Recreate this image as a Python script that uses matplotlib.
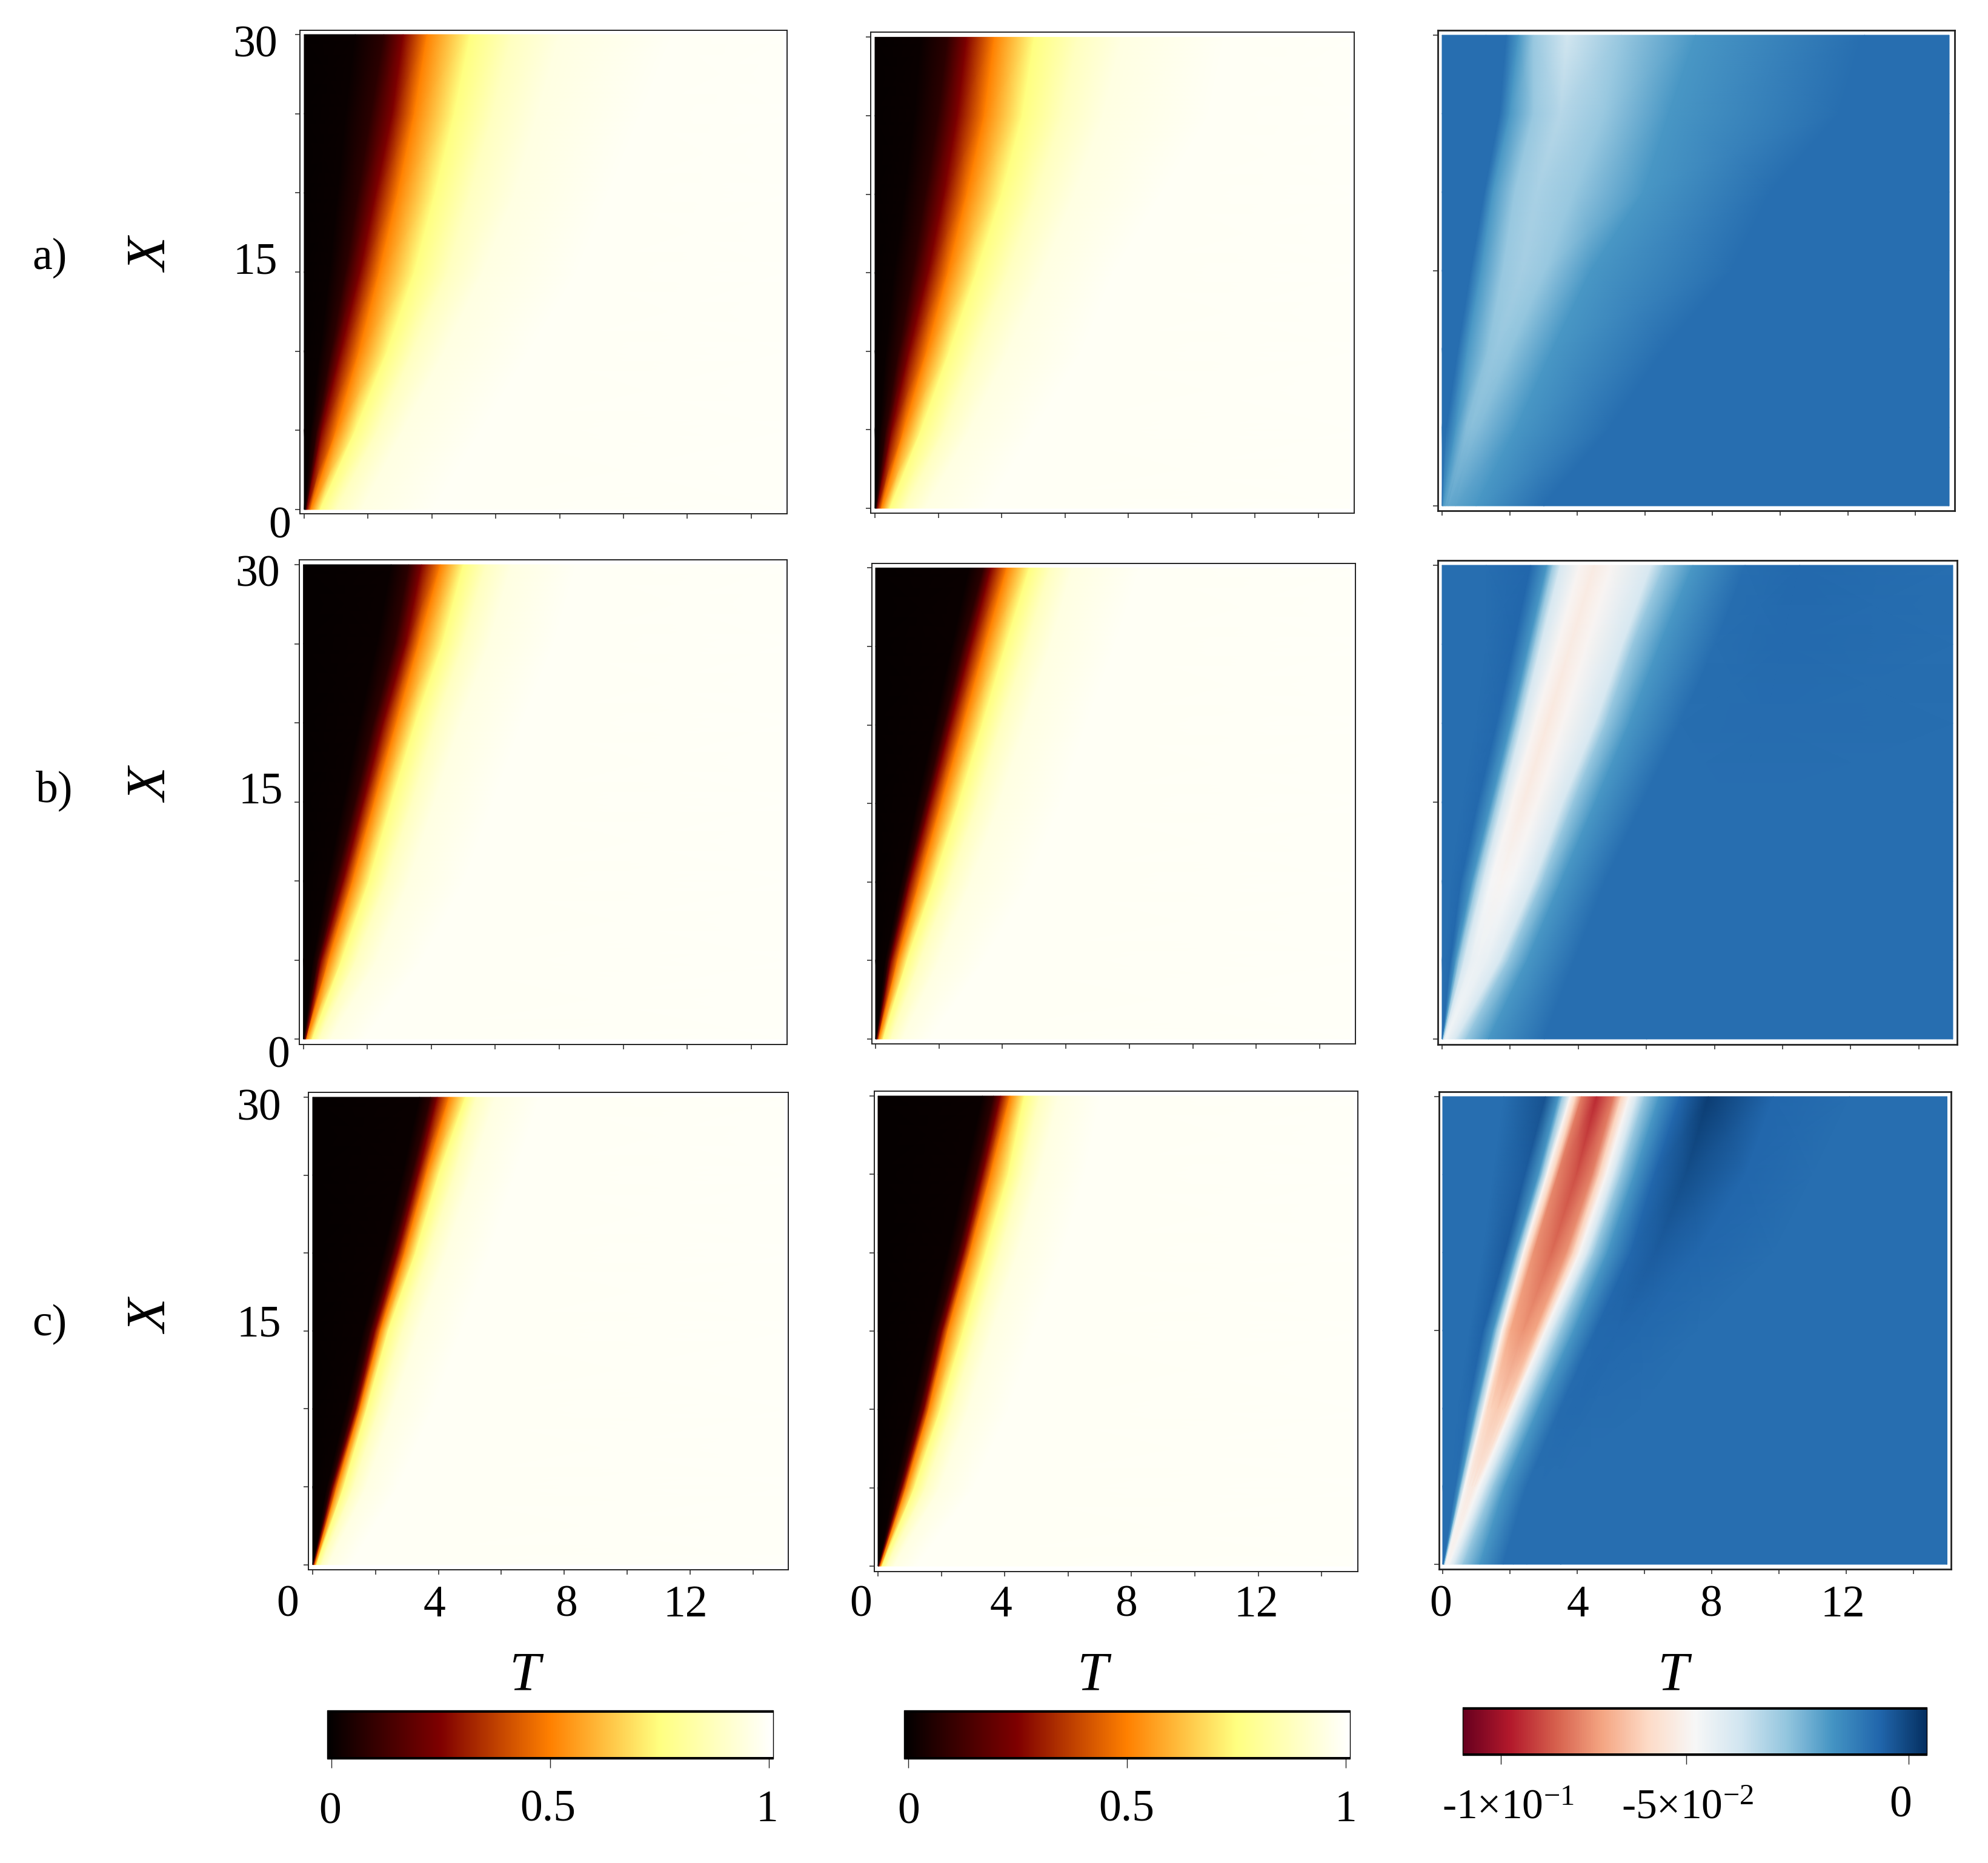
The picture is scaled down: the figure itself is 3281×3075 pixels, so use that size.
# three rows of front maps, two "hot" fields and their difference
import matplotlib
matplotlib.use("Agg")
import matplotlib.pyplot as plt
from matplotlib.colors import LinearSegmentedColormap, Normalize, TwoSlopeNorm
from matplotlib.cm import ScalarMappable
import numpy as np

plt.rcParams["font.family"] = ["Liberation Serif", "DejaVu Serif"]
plt.rcParams["mathtext.fontset"] = "custom"
plt.rcParams["mathtext.rm"] = "Liberation Serif"
plt.rcParams["mathtext.it"] = "Liberation Serif:italic"

W, H = 3281, 3075

X_ROWS = [0, 5, 10, 15, 20, 25, 30]
T_END = 15

# hot panels: T where the field reaches each level, one line per X row
HOT_LEVELS = [0.0, 0.01, 0.08, 0.25, 0.5, 0.75, 0.88, 0.95, 0.99, 0.995]
hot_a1 = [[0.02, 0.05, 0.08, 0.20, 0.50, 1.00, 1.8, 4.0],
          [0.20, 0.40, 0.55, 1.00, 1.60, 2.30, 3.1, 5.5],
          [0.50, 0.85, 1.15, 1.72, 2.60, 3.40, 4.4, 7.0],
          [0.80, 1.30, 1.75, 2.35, 3.45, 4.50, 5.6, 8.5],
          [1.05, 1.70, 2.25, 2.93, 4.10, 5.20, 6.6, 9.5],
          [1.30, 2.10, 2.76, 3.45, 4.70, 5.90, 7.3, 10.5],
          [1.60, 2.50, 3.10, 3.85, 5.20, 6.50, 8.0, 11.5]]
hot_a2 = [[0.02, 0.04, 0.07, 0.20, 0.47, 0.95, 1.6, 3.5],
          [0.15, 0.35, 0.53, 0.91, 1.46, 2.20, 3.0, 5.0],
          [0.35, 0.75, 1.08, 1.63, 2.35, 3.20, 4.2, 6.5],
          [0.60, 1.20, 1.68, 2.30, 3.20, 4.20, 5.3, 7.5],
          [0.95, 1.60, 2.18, 2.90, 4.00, 5.10, 6.3, 9.0],
          [1.25, 2.00, 2.60, 3.45, 4.65, 5.90, 7.2, 10.5],
          [1.45, 2.30, 2.90, 3.77, 5.03, 6.40, 7.8, 11.0]]
hot_b1 = [[0.02, 0.03, 0.07, 0.10, 0.28, 0.50, 0.85, 1.9],
          [0.30, 0.45, 0.56, 0.79, 1.20, 1.65, 2.30, 3.7],
          [0.75, 1.02, 1.25, 1.54, 2.05, 2.60, 3.30, 5.0],
          [1.25, 1.62, 1.88, 2.22, 2.76, 3.40, 4.10, 5.9],
          [1.75, 2.20, 2.50, 2.91, 3.50, 4.15, 4.90, 6.8],
          [2.30, 2.85, 3.20, 3.60, 4.35, 5.00, 5.80, 7.8],
          [2.75, 3.30, 3.70, 4.29, 5.00, 5.70, 6.50, 8.5]]
hot_b2 = [[0.02, 0.03, 0.05, 0.10, 0.24, 0.48, 0.85, 1.7],
          [0.30, 0.40, 0.49, 0.69, 0.99, 1.40, 2.00, 3.4],
          [0.80, 0.95, 1.08, 1.38, 1.83, 2.35, 3.00, 4.8],
          [1.30, 1.55, 1.72, 2.07, 2.62, 3.20, 3.90, 5.8],
          [1.85, 2.15, 2.36, 2.76, 3.36, 3.95, 4.70, 6.6],
          [2.40, 2.75, 3.00, 3.44, 4.09, 4.75, 5.50, 7.5],
          [2.95, 3.40, 3.64, 4.14, 4.85, 5.50, 6.20, 8.3]]
hot_c1 = [[0.01, 0.02, 0.03, 0.07, 0.13, 0.28, 0.50, 1.2],
          [0.45, 0.57, 0.65, 0.77, 0.99, 1.30, 1.70, 2.7],
          [1.05, 1.25, 1.38, 1.50, 1.72, 2.10, 2.55, 3.8],
          [1.60, 1.82, 1.98, 2.15, 2.40, 2.85, 3.35, 4.7],
          [2.25, 2.52, 2.70, 2.92, 3.27, 3.70, 4.25, 5.6],
          [2.85, 3.15, 3.35, 3.60, 4.00, 4.50, 5.05, 6.4],
          [3.40, 3.75, 3.96, 4.34, 4.86, 5.20, 5.80, 7.2]]
hot_c2 = [[0.01, 0.02, 0.03, 0.07, 0.13, 0.28, 0.50, 1.2],
          [0.50, 0.66, 0.76, 0.88, 1.15, 1.50, 1.95, 3.0],
          [1.05, 1.30, 1.45, 1.60, 1.97, 2.35, 2.85, 4.1],
          [1.60, 1.85, 2.02, 2.20, 2.69, 3.10, 3.60, 4.9],
          [2.20, 2.52, 2.70, 2.90, 3.40, 3.85, 4.40, 5.8],
          [2.75, 3.10, 3.30, 3.55, 4.11, 4.55, 5.10, 6.5],
          [3.30, 3.65, 3.87, 4.17, 4.62, 5.10, 5.70, 7.0]]

# difference panels: T and value at the same band points, one line per X row
diff_a_T = [[0, 0.01, 0.02, 0.05, 0.10, 0.18, 0.40, 1.00, 3.0, 15],
            [0, 0.06, 0.13, 0.41, 0.70, 0.86, 1.10, 2.20, 5.0, 15],
            [0, 0.25, 0.47, 0.75, 1.36, 1.60, 2.03, 3.27, 6.6, 15],
            [0, 0.50, 0.85, 1.15, 1.80, 2.37, 3.04, 4.40, 8.6, 15],
            [0, 0.80, 1.25, 1.50, 2.15, 2.80, 3.90, 5.95, 9.75, 15],
            [0, 1.10, 1.70, 2.00, 2.70, 3.50, 4.80, 6.70, 11.8, 15],
            [0, 1.30, 1.90, 2.26, 2.70, 3.70, 5.30, 7.50, 12.5, 15]]
diff_a_V = [[-0.0083, -0.0100, -0.0170, -0.0190, -0.0200, -0.0210, -0.0200, -0.0175, -0.0083, -0.0083],
            [-0.0083, -0.0083, -0.0083, -0.0175, -0.0255, -0.0260, -0.0255, -0.0175, -0.0083, -0.0083],
            [-0.0083, -0.0083, -0.0083, -0.0175, -0.0270, -0.0280, -0.0270, -0.0175, -0.0083, -0.0083],
            [-0.0083, -0.0083, -0.0083, -0.0175, -0.0283, -0.0300, -0.0283, -0.0175, -0.0083, -0.0083],
            [-0.0083, -0.0083, -0.0083, -0.0175, -0.0283, -0.0310, -0.0283, -0.0175, -0.0083, -0.0083],
            [-0.0083, -0.0083, -0.0083, -0.0175, -0.0283, -0.0330, -0.0283, -0.0175, -0.0083, -0.0083],
            [-0.0083, -0.0083, -0.0083, -0.0175, -0.0283, -0.0380, -0.0283, -0.0175, -0.0083, -0.0083]]

diff_b_T = [[0, 0.005, 0.01, 0.02, 0.03, 0.05, 0.07, 0.10, 0.20, 0.40, 0.70, 1.36, 3.0, 6.0, 15],
            [0, 0.10, 0.25, 0.40, 0.50, 0.65, 0.85, 1.03, 1.30, 1.70, 1.95, 2.50, 3.9, 6.5, 15],
            [0, 0.25, 0.55, 0.88, 1.02, 1.20, 1.43, 1.72, 2.05, 2.70, 2.95, 3.50, 4.8, 7.5, 15],
            [0, 0.60, 1.05, 1.45, 1.60, 1.78, 2.07, 2.40, 2.80, 3.55, 3.85, 4.50, 5.9, 8.5, 15],
            [0, 1.00, 1.60, 2.02, 2.18, 2.35, 2.73, 3.10, 3.55, 4.50, 4.80, 5.50, 7.0, 9.5, 15],
            [0, 1.30, 2.10, 2.55, 2.72, 2.90, 3.40, 3.78, 4.25, 5.30, 5.60, 6.40, 8.03, 10.0, 15],
            [0, 1.30, 2.60, 3.08, 3.25, 3.47, 4.03, 4.47, 4.97, 6.14, 6.53, 7.37, 8.9, 10.5, 15]]
diff_b_V = [[-0.0083, -0.0083, -0.0083, -0.0175, -0.0283, -0.0392, -0.0440, -0.0460, -0.0440, -0.0392, -0.0283, -0.0175, -0.0083, -0.0083, -0.0083],
            [-0.0083, -0.0083, -0.0070, -0.0175, -0.0283, -0.0392, -0.0440, -0.0450, -0.0440, -0.0392, -0.0283, -0.0175, -0.0083, -0.0083, -0.0083],
            [-0.0083, -0.0083, -0.0070, -0.0175, -0.0283, -0.0392, -0.0470, -0.0490, -0.0470, -0.0392, -0.0283, -0.0175, -0.0083, -0.0083, -0.0083],
            [-0.0083, -0.0083, -0.0070, -0.0175, -0.0283, -0.0392, -0.0490, -0.0530, -0.0490, -0.0392, -0.0283, -0.0175, -0.0083, -0.0083, -0.0083],
            [-0.0083, -0.0083, -0.0070, -0.0175, -0.0283, -0.0392, -0.0490, -0.0540, -0.0490, -0.0392, -0.0283, -0.0175, -0.0083, -0.0079, -0.0083],
            [-0.0083, -0.0083, -0.0066, -0.0175, -0.0283, -0.0392, -0.0490, -0.0530, -0.0490, -0.0392, -0.0283, -0.0175, -0.0083, -0.0075, -0.0083],
            [-0.0083, -0.0083, -0.0066, -0.0175, -0.0283, -0.0392, -0.0490, -0.0530, -0.0490, -0.0392, -0.0283, -0.0175, -0.0083, -0.0070, -0.0083]]

diff_c_T = [[0, 0.01, 0.02, 0.04, 0.05, 0.07, 0.09, 0.10, 0.13, 0.16, 0.19, 0.22, 0.35, 0.60, 1.10, 1.80, 2.10, 2.50, 3.50, 15],
            [0, 0.25, 0.38, 0.50, 0.55, 0.65, 0.72, 0.78, 0.87, 0.95, 1.00, 1.08, 1.27, 1.50, 1.85, 2.50, 2.90, 3.30, 4.00, 15],
            [0, 0.45, 0.75, 0.98, 1.06, 1.22, 1.33, 1.44, 1.64, 1.84, 1.94, 2.05, 2.25, 2.50, 2.85, 3.50, 3.96, 4.41, 5.88, 15],
            [0, 0.80, 1.20, 1.50, 1.60, 1.76, 1.88, 2.02, 2.40, 2.75, 2.90, 3.05, 3.25, 3.50, 3.90, 4.55, 5.20, 5.88, 7.57, 15],
            [0, 1.20, 1.85, 2.15, 2.25, 2.40, 2.55, 2.70, 3.24, 3.68, 3.88, 4.07, 4.30, 4.50, 4.90, 5.60, 6.33, 7.57, 9.83, 15],
            [0, 1.50, 2.44, 2.85, 2.95, 3.10, 3.28, 3.42, 3.98, 4.45, 4.65, 4.86, 5.08, 5.30, 5.70, 6.30, 7.23, 9.00, 11.0, 15],
            [0, 1.82, 3.06, 3.45, 3.56, 3.79, 3.96, 4.13, 4.58, 5.09, 5.31, 5.54, 5.77, 6.00, 6.44, 7.06, 7.90, 9.83, 12.1, 15]]
diff_c_V = [[-0.0083, -0.0083, -0.0083, -0.0175, -0.0283, -0.0420, -0.0470, -0.0475, -0.0480, -0.0475, -0.0470, -0.0450, -0.0392, -0.0283, -0.0175, -0.0083, -0.0083, -0.0083, -0.0083, -0.0083],
            [-0.0083, -0.0083, -0.0083, -0.0175, -0.0283, -0.0480, -0.0510, -0.0530, -0.0540, -0.0530, -0.0510, -0.0480, -0.0392, -0.0283, -0.0175, -0.0083, -0.0083, -0.0083, -0.0083, -0.0083],
            [-0.0083, -0.0083, -0.0075, -0.0175, -0.0283, -0.0490, -0.0600, -0.0620, -0.0640, -0.0620, -0.0600, -0.0490, -0.0392, -0.0283, -0.0175, -0.0078, -0.0075, -0.0078, -0.0083, -0.0083],
            [-0.0083, -0.0083, -0.0060, -0.0175, -0.0283, -0.0490, -0.0620, -0.0720, -0.0760, -0.0720, -0.0620, -0.0490, -0.0392, -0.0283, -0.0175, -0.0070, -0.0066, -0.0070, -0.0083, -0.0083],
            [-0.0083, -0.0083, -0.0045, -0.0175, -0.0283, -0.0490, -0.0620, -0.0760, -0.0830, -0.0760, -0.0620, -0.0490, -0.0392, -0.0283, -0.0175, -0.0066, -0.0045, -0.0066, -0.0083, -0.0083],
            [-0.0083, -0.0083, -0.0045, -0.0175, -0.0283, -0.0490, -0.0620, -0.0790, -0.0880, -0.0790, -0.0620, -0.0490, -0.0392, -0.0283, -0.0175, -0.0066, -0.0020, -0.0066, -0.0083, -0.0083],
            [-0.0083, -0.0083, -0.0025, -0.0175, -0.0283, -0.0490, -0.0620, -0.0800, -0.0950, -0.0800, -0.0620, -0.0490, -0.0392, -0.0283, -0.0175, -0.0066, 0.0015, -0.0066, -0.0083, -0.0083]]

T_TICKS = [0, 2, 4, 6, 8, 10, 12, 14]
X_TICKS = [0, 5, 10, 15, 20, 25, 30]
X_TICKS_DIFF = [0, 15, 30]
HOT_TICKS = [0, 0.5, 1]
DIFF_TICKS = [-0.1, -0.05, 0]

# pixel layout: frame x0, x1, y0, y1, then T=0 px, px per T unit, X=30 px, X=0 px
FRAMES = {
    "a1": (495, 1299, 50, 848, 502, 52.7, 57, 841),
    "a2": (1437, 2235, 53, 847, 1444, 52.25, 61.4, 839),
    "a3": (2373, 3226, 50, 843, 2380, 55.8, 58, 835),
    "b1": (494, 1299, 924, 1724, 500.6, 52.8, 932, 1715),
    "b2": (1438.5, 2236.5, 930, 1723, 1445, 52.35, 937.4, 1715),
    "b3": (2373, 3230, 925, 1724, 2380, 56.2, 933, 1715),
    "c1": (509, 1301, 1803, 2590.6, 516, 51.9, 1811, 2582.6),
    "c2": (1442.6, 2240.5, 1801, 2593.5, 1449, 52.3, 1809, 2585),
    "c3": (2374.5, 3220, 1802, 2589.5, 2381, 55.5, 1810, 2582),
}

hot_cmap = LinearSegmentedColormap.from_list("hot_bar", [
    (0.0, "#000000"), (0.26 / 1.02, "#7f0000"), (0.51 / 1.02, "#ff8000"),
    (0.76 / 1.02, "#ffff80"), (1.0, "#ffffff")], N=1024)
hot_norm = Normalize(vmin=-0.01, vmax=1.01)
diff_norm = TwoSlopeNorm(vcenter=-0.0478, vmin=-0.1102, vmax=0.004)


def px_axes(fig, x0, x1, y0, y1):
    return fig.add_axes([x0 / W, 1 - y1 / H, (x1 - x0) / W, (y1 - y0) / H])


def px_text(fig, x, y, s, size=53, **kw):
    fig.text(x / W, 1 - y / H, s, fontsize=size, ha="center", va="center", **kw)


def draw_panel(fig, name, T, V, cmap, norm, yticks, lw):
    x0, x1, y0, y1, t0, per_t, y30, y00 = FRAMES[name]
    ax = px_axes(fig, x0, x1, y0, y1)
    X = np.repeat(np.array(X_ROWS, dtype=float)[:, None], T.shape[1], axis=1)
    ax.pcolormesh(T, X, V, shading="gouraud", cmap=cmap, norm=norm)
    per_x = (y00 - y30) / 30
    ax.set_xlim((x0 - t0) / per_t, (x1 - t0) / per_t)
    ax.set_ylim((y00 - y1) / per_x, (y00 - y0) / per_x)
    ax.set_xticks(T_TICKS)
    ax.set_yticks(yticks)
    ax.tick_params(labelbottom=False, labelleft=False, length=6, width=1.1, color="#222222")
    for s in ax.spines.values():
        s.set_linewidth(lw)
        s.set_color("#222222")
    return ax


def hot_tables(rows):
    rows = np.array(rows)
    n = rows.shape[0]
    T = np.hstack([np.zeros((n, 1)), rows, np.full((n, 1), T_END)])
    V = np.tile(np.array(HOT_LEVELS), (n, 1))
    return T, V


def draw_bar(fig, x0, x1, y0, y1, cmap, norm, ticks):
    cax = px_axes(fig, x0, x1, y0, y1)
    cb = fig.colorbar(ScalarMappable(norm=norm, cmap=cmap), cax=cax, orientation="horizontal")
    cb.set_ticks(ticks)
    cb.minorticks_off()
    cax.tick_params(labelbottom=False, length=11, width=1.0, color="#222222")
    cb.outline.set_linewidth(1.0)
    cb.outline.set_edgecolor("black")
    cax.axhline(0, color="black", lw=5, clip_on=True)
    cax.axhline(1, color="black", lw=5, clip_on=True)


fig = plt.figure(figsize=(W / 100, H / 100), dpi=100, facecolor="white")

for name, rows in [("a1", hot_a1), ("a2", hot_a2), ("b1", hot_b1),
                   ("b2", hot_b2), ("c1", hot_c1), ("c2", hot_c2)]:
    T, V = hot_tables(rows)
    draw_panel(fig, name, T, V, hot_cmap, hot_norm, X_TICKS, 1.4)

for name, T, V in [("a3", diff_a_T, diff_a_V), ("b3", diff_b_T, diff_b_V), ("c3", diff_c_T, diff_c_V)]:
    draw_panel(fig, name, np.array(T, dtype=float), np.array(V), "RdBu", diff_norm, X_TICKS_DIFF, 2.0)

# row letters and X labels
for x, y, s in [(82, 426, "a)"), (90, 1305, "b)"), (82, 2186, "c)")]:
    px_text(fig, x, y, s)
for y in [422, 1297, 2174]:
    px_text(fig, 253, y, "X", size=66, style="italic", rotation=90)

# left axis numbers
for x, y, s in [(421, 76, "30"), (421, 434, "15"), (462, 870, "0"),
                (425, 950, "30"), (430, 1308, "15"), (460, 1744, "0"),
                (427, 1831, "30"), (427, 2188, "15")]:
    px_text(fig, x, y, s)

# bottom axis numbers
for xs in [(475, 717, 935, 1131), (1421, 1652, 1859, 2073), (2378, 2604, 2824, 3041)]:
    for x, s in zip(xs, ["0", "4", "8", "12"]):
        px_text(fig, x, 2650, s)
for x in [866, 1804, 2762]:
    px_text(fig, x, 2767, "T", size=66, style="italic")

# colour bars
draw_bar(fig, 540, 1276, 2823, 2903, hot_cmap, hot_norm, HOT_TICKS)
draw_bar(fig, 1492, 2228, 2823, 2903, hot_cmap, hot_norm, HOT_TICKS)
draw_bar(fig, 2414, 3180, 2818, 2897, "RdBu", diff_norm, DIFF_TICKS)

for xs in [(545, 904, 1266), (1500, 1859, 2221)]:
    for x, y, s in zip(xs, [2992, 2988, 2988], ["0", "0.5", "1"]):
        px_text(fig, x, y, s)
px_text(fig, 2489, 2985, r"-1×10$^{\mathrm{-1}}$", size=50)
px_text(fig, 2785, 2985, r"-5×10$^{\mathrm{-2}}$", size=50)
px_text(fig, 3137, 2981, "0")

fig.savefig("out.png", dpi=100, facecolor="white")
